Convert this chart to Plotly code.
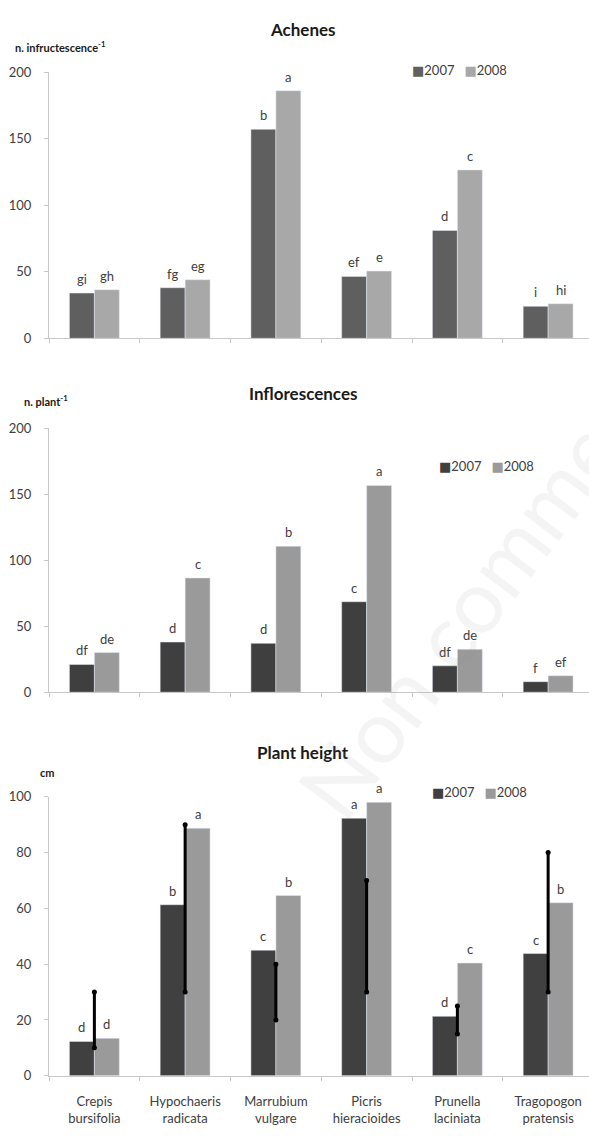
import plotly.graph_objects as go

W, H = 589, 1136

categories = ["Crepis<br>bursifolia", "Hypochaeris<br>radicata", "Marrubium<br>vulgare",
              "Picris<br>hieracioides", "Prunella<br>laciniata", "Tragopogon<br>pratensis"]
years = ["2007", "2008"]

# Panel 1: Achenes (n. infructescence-1)
ach_2007 = [34, 38, 157, 46.5, 81, 24]
ach_2008 = [36.5, 44, 186, 50.5, 126.5, 26]
ach_let_2007 = ["gi", "fg", "b", "ef", "d", "i"]
ach_let_2008 = ["gh", "eg", "a", "e", "c", "hi"]

# Panel 2: Inflorescences (n. plant-1)
inf_2007 = [21, 38, 37, 68.5, 20, 8]
inf_2008 = [30, 86.5, 110.5, 156.5, 32.5, 12.5]
inf_let_2007 = ["df", "d", "d", "c", "df", "f"]
inf_let_2008 = ["de", "c", "b", "a", "de", "ef"]

# Panel 3: Plant height (cm)
ht_2007 = [12.3, 61.3, 45, 92.3, 21.3, 43.8]
ht_2008 = [13.4, 88.7, 64.6, 98, 40.4, 62]
ht_let_2007 = ["d", "b", "c", "a", "d", "c"]
ht_let_2008 = ["d", "a", "b", "a", "c", "b"]
ht_range_low = [10, 30, 20, 30, 15, 30]
ht_range_high = [30, 90, 40, 70, 25, 80]

panels = [
    dict(v07=ach_2007, v08=ach_2008, l07=ach_let_2007, l08=ach_let_2008,
         c07="#5f5f5f", c08="#a8a8a8", ymax=200, dtick=50,
         title="Achenes", unit="n. infructescence<sup>-1</sup>",
         top=65, bottom=335, title_y=22, unit_y=39, unit_x=13, leg_x=410, leg_y=63),
    dict(v07=inf_2007, v08=inf_2008, l07=inf_let_2007, l08=inf_let_2008,
         c07="#3f3f3f", c08="#9a9a9a", ymax=200, dtick=50,
         title="Inflorescences", unit="n. plant<sup>-1</sup>",
         top=426, bottom=694, title_y=391, unit_y=398, unit_x=22, leg_x=437, leg_y=465),
    dict(v07=ht_2007, v08=ht_2008, l07=ht_let_2007, l08=ht_let_2008,
         c07="#404040", c08="#9a9a9a", ymax=100, dtick=20,
         title="Plant height", unit="cm",
         top=800, bottom=1083, title_y=755, unit_y=775, unit_x=38, leg_x=430, leg_y=795),
]

x_left, x_right = 49, 589
cat_px = 90.75
x_range = [-0.5, -0.5 + (x_right - x_left) / cat_px]
bargap = 0.45
bar_px = (1 - bargap) * cat_px / 2

font_family = "Lato, 'Open Sans', 'DejaVu Sans', sans-serif"
axis_grey = "#c8c8c8"
text_grey = "#404040"

fig = go.Figure()
annotations = []
layout_axes = {}

for i, p in enumerate(panels):
    n = "" if i == 0 else str(i + 1)
    xa, ya = "x" + n, "y" + n
    fig.add_trace(go.Bar(x=categories, y=p["v07"], name=years[0], marker_color=p["c07"],
                         xaxis=xa, yaxis=ya, showlegend=False))
    fig.add_trace(go.Bar(x=categories, y=p["v08"], name=years[1], marker_color=p["c08"],
                         xaxis=xa, yaxis=ya, showlegend=False))
    # significance letters
    for vals, lets, sh in ((p["v07"], p["l07"], -bar_px / 2), (p["v08"], p["l08"], bar_px / 2)):
        for c, v, t in zip(categories, vals, lets):
            annotations.append(dict(x=c, y=v, xref=xa, yref=ya, text=t, showarrow=False,
                                    xshift=sh, yshift=4, yanchor="bottom",
                                    font=dict(family=font_family, size=13, color=text_grey)))
    # title and unit
    annotations.append(dict(x=303 / W, y=1 - p["title_y"] / H, xref="paper", yref="paper",
                            text="<b>%s</b>" % p["title"], showarrow=False,
                            xanchor="center", yanchor="middle",
                            font=dict(family=font_family, size=17, color="#1a1a1a")))
    annotations.append(dict(x=p["unit_x"] / W, y=1 - p["unit_y"] / H, xref="paper", yref="paper",
                            text="<b>%s</b>" % p["unit"], showarrow=False,
                            xanchor="left", yanchor="middle",
                            font=dict(family=font_family, size=11, color="#1a1a1a")))
    # legend
    leg = ("<span style='color:%s'>■</span>%s   <span style='color:%s'>■</span>%s"
           % (p["c07"], years[0], p["c08"], years[1]))
    annotations.append(dict(x=p["leg_x"] / W, y=1 - p["leg_y"] / H, xref="paper", yref="paper",
                            text=leg, showarrow=False, xanchor="left", yanchor="middle",
                            font=dict(family=font_family, size=13, color=text_grey)))

    layout_axes["xaxis" + n] = dict(
        domain=[x_left / W, x_right / W], anchor=ya, range=x_range, type="category",
        showline=True, linecolor=axis_grey, linewidth=1, ticks="outside", tickson="boundaries",
        ticklen=4, tickcolor=axis_grey, showgrid=False, zeroline=False,
        showticklabels=(i == 2), ticklabelstandoff=14,
        tickfont=dict(family=font_family, size=13, color=text_grey))
    layout_axes["yaxis" + n] = dict(
        domain=[1 - p["bottom"] / H, 1 - p["top"] / H], anchor=xa, range=[0, p["ymax"]],
        dtick=p["dtick"], showline=True, linecolor=axis_grey, linewidth=1, ticks="outside",
        ticklen=4, tickcolor=axis_grey, showgrid=False, zeroline=False,
        ticklabelstandoff=10, tickfont=dict(family=font_family, size=13, color=text_grey))

# range lines on plant height panel
ex, ey = [], []
for c, lo, hi in zip(categories, ht_range_low, ht_range_high):
    ex += [c, c, None]
    ey += [lo, hi, None]
fig.add_trace(go.Scatter(x=ex, y=ey, mode="lines+markers", xaxis="x3", yaxis="y3",
                         line=dict(color="black", width=3),
                         marker=dict(color="black", size=5), showlegend=False,
                         cliponaxis=False))

# faint watermark
annotations.append(dict(x=609 / W, y=1 - 416 / H, xref="paper", yref="paper",
                        text="Non commercial use only", showarrow=False, textangle=-53,
                        xanchor="center", yanchor="middle",
                        font=dict(family=font_family, size=88, color="rgba(150,150,150,0.10)")))

fig.update_layout(width=W, height=H, margin=dict(l=0, r=0, t=0, b=0),
                  paper_bgcolor="white", plot_bgcolor="white",
                  barmode="group", bargap=bargap, bargroupgap=0,
                  annotations=annotations, **layout_axes)

fig.write_html("out.html", config={"displayModeBar": False},
               post_script="document.body.style.margin='0';")
